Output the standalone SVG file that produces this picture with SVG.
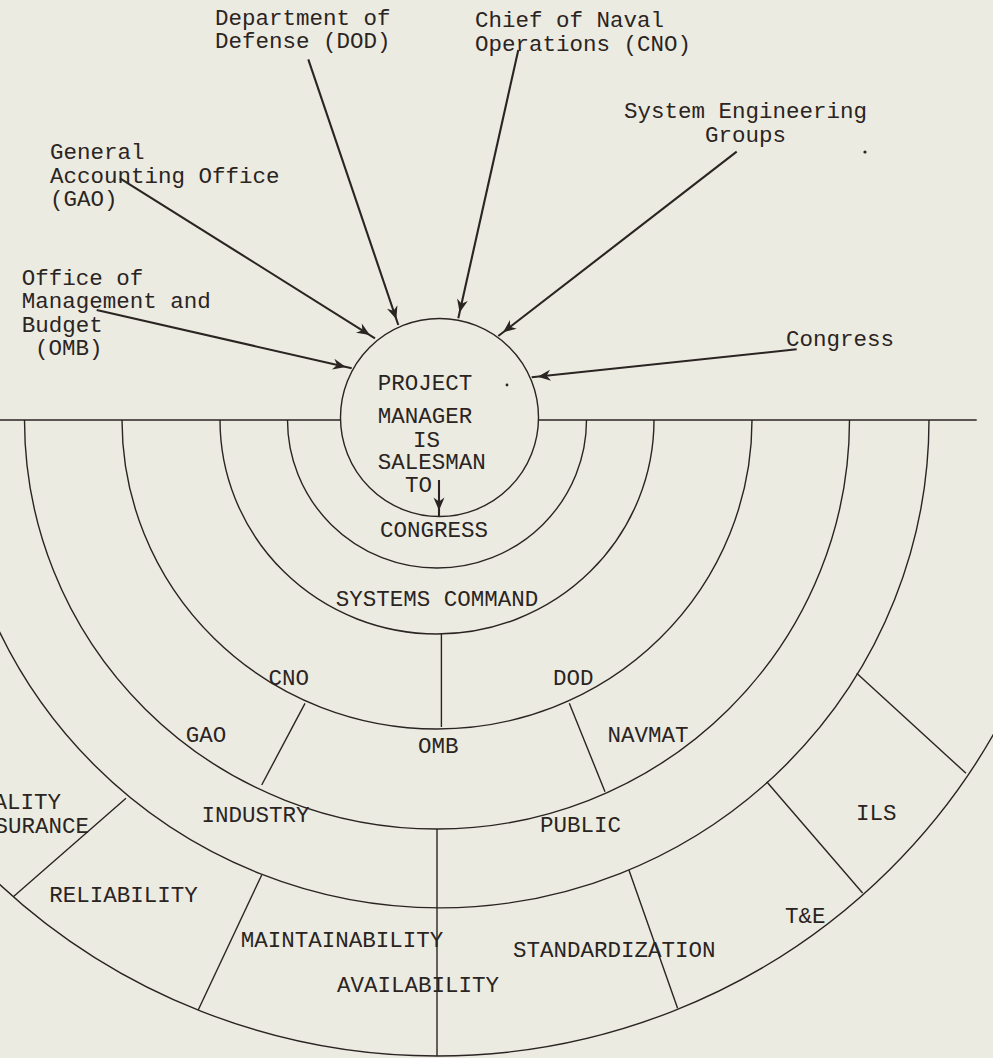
<svg xmlns="http://www.w3.org/2000/svg" width="993" height="1058" viewBox="0 0 993 1058">
<style>
text{font-family:"Liberation Mono","DejaVu Sans Mono",monospace;font-size:22.5px;fill:#2a2422}
.ln{fill:none;stroke:#2a2422;stroke-width:1.4}
.ar{fill:none;stroke:#2a2422;stroke-width:2.1;marker-end:url(#ah)}
</style>
<defs>
<marker id="ah" markerUnits="userSpaceOnUse" viewBox="-24 -7 26 14" refX="0" refY="0" markerWidth="26" markerHeight="14" orient="auto">
<path d="M-6,0 L-19,-5.5 L-15,0 L-19,5.5 Z" fill="#2a2422"/>
</marker>
</defs>
<rect width="993" height="1058" fill="#ecebe1"/>

<g id="rings">
<path class="ln" d="M0,420 H340.5 M538.5,420 H976.7"/>
<path class="ln" d="M287.5,420 A149.5 148 0 0 0 586.5,420"/>
<path class="ln" d="M220,420 A217 214 0 0 0 654,420"/>
<path class="ln" d="M122,420 A315 309 0 0 0 752,420"/>
<path class="ln" d="M24.5,420 A412.5 409 0 0 0 849.5,420"/>
<path class="ln" d="M-49,420 A489 488 0 0 0 929,420"/>
<path class="ln" d="M-203,420 A640 636 0 0 0 1077,420"/>
</g>

<g id="dividers">
<path class="ln" d="M441.4,634 L441.4,727"/>
<path class="ln" d="M305,703.3 L261.7,785"/>
<path class="ln" d="M569.3,703.3 L605,791.7"/>
<path class="ln" d="M437,829 L437,1056"/>
<path class="ln" d="M126,798.3 L13.3,896.7"/>
<path class="ln" d="M261.7,875 L198.2,1010"/>
<path class="ln" d="M628.9,870 L677.6,1008.3"/>
<path class="ln" d="M766.7,781.7 L862.6,893"/>
<path class="ln" d="M856.7,673.3 L966,773.3"/>
</g>

<g id="project-manager">
<circle class="ln" cx="439.5" cy="417.5" r="99"/>
<text x="377.7" y="390">PROJECT</text>
<text x="377.7" y="423.3">MANAGER</text>
<text x="413" y="446.7">IS</text>
<text x="377.7" y="469.3">SALESMAN</text>
<text x="405" y="491.7">TO</text>
</g>

<g id="ring-labels">
<text id="r-congress" x="380" y="537">CONGRESS</text>
<text id="r-syscom" x="335.7" y="606">SYSTEMS COMMAND</text>
<text id="r-cno" x="268.5" y="685">CNO</text>
<text id="r-dod" x="553" y="685">DOD</text>
<text id="r-gao" x="185.7" y="741.7">GAO</text>
<text id="r-omb" x="418" y="752.7">OMB</text>
<text id="r-navmat" x="607.5" y="741.7">NAVMAT</text>
<text id="r-industry" x="201.5" y="821.5">INDUSTRY</text>
<text id="r-public" x="540" y="831.7">PUBLIC</text>
<text id="r-qa1" x="61" y="809" text-anchor="end">ALITY</text>
<text id="r-qa2" x="89" y="832.7" text-anchor="end">SURANCE</text>
<text id="r-ils" x="856" y="820">ILS</text>
<text id="r-rel" x="49.3" y="901.5">RELIABILITY</text>
<text id="r-te" x="785" y="922.7">T&amp;E</text>
<text id="r-maint" x="240.7" y="946.7">MAINTAINABILITY</text>
<text id="r-std" x="513" y="957.3">STANDARDIZATION</text>
<text id="r-avail" x="337" y="992.3">AVAILABILITY</text>
</g>

<g id="dod">
<text x="215" y="25">Department of</text>
<text x="215" y="48.3">Defense (DOD)</text>
</g>
<g id="cno">
<text x="475" y="27.3">Chief of Naval</text>
<text x="475" y="50.7">Operations (CNO)</text>
</g>
<g id="seg">
<text x="624" y="118.3">System Engineering</text>
<text x="705" y="141.7">Groups</text>
</g>
<g id="gao">
<text x="50" y="159.3">General</text>
<text x="50" y="182.7">Accounting Office</text>
<text x="50" y="206">(GAO)</text>
</g>
<g id="omb">
<text x="21.7" y="285">Office of</text>
<text x="21.7" y="308.3">Management and</text>
<text x="21.7" y="331.7">Budget</text>
<text x="35" y="355">(OMB)</text>
</g>
<g id="congress">
<text x="786" y="346">Congress</text>
</g>

<g id="connectors">
<path class="ar" d="M308.3,59.3 L398.3,325"/>
<path class="ar" d="M518.3,50 L458.3,318.3"/>
<path class="ar" d="M736.7,151.7 L498.3,336"/>
<path class="ar" d="M120,178.3 L375,338.3"/>
<path class="ar" d="M96.7,310 L351.7,368.3"/>
<path class="ar" d="M796.7,349.3 L531.7,377.3"/>
<path class="ar" d="M439,480 L439,516.5"/>
</g>

<g id="specks" fill="#2a2422">
<circle cx="865" cy="152" r="1.6"/>
<circle cx="507" cy="385" r="1.4"/>
</g>
</svg>
